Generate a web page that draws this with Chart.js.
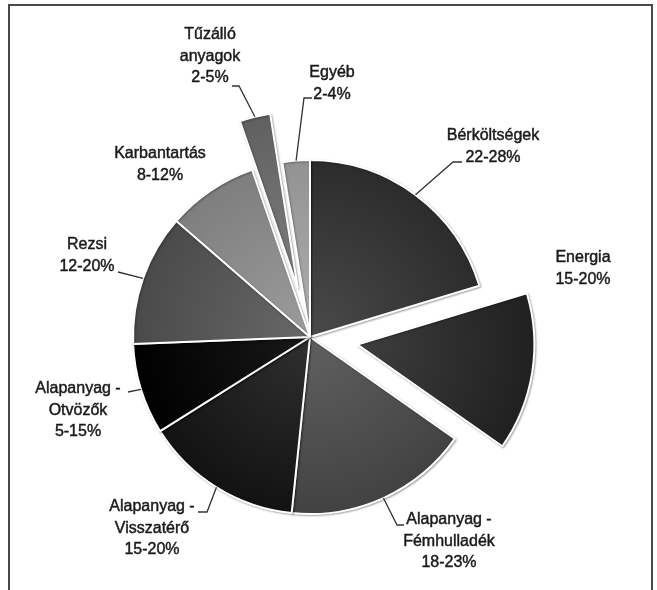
<!DOCTYPE html>
<html>
<head>
<meta charset="utf-8">
<script src="https://cdn.jsdelivr.net/npm/chart.js@4/dist/chart.umd.min.js"></script>
<style>
  html, body { margin: 0; padding: 0; background: #fff; }
</style>
</head>
<body>
<canvas id="pieChart" width="657" height="590"></canvas>
<script>
// data
const categories = [
    ['Bérköltségek'], ['Energia'], ['Alapanyag -', 'Fémhulladék'], ['Alapanyag -', 'Visszatérő'],
    ['Alapanyag -', 'Otvözők'], ['Rezsi'], ['Karbantartás'], ['Tűzálló', 'anyagok'], ['Egyéb']
];
const ranges = ['22-28%', '15-20%', '18-23%', '15-20%', '5-15%', '12-20%', '8-12%', '2-5%', '2-4%'];
const shares = [20.3, 14.4, 16.9, 14.4, 8.3, 12.0, 8.3, 2.8, 2.5];

// styles / layout
const greys = ['#383838', '#2c2c2c', '#4e4e4e', '#1e1e1e', '#070707', '#565656', '#8a8a8a', '#6c6c6c', '#9e9e9e'];
const explode = [0, 48, 0, 0, 0, 0, 0, 50, 0];
const RADIUS = 177;
const labelAt = [[493, 136], [583, 258], [449, 520], [152, 507], [78, 389], [87, 245], [160, 154], [210, 35], [332, 73]];
const leaders = [
    [[453, 162], [462, 162]], null, [[397, 525], [404, 525]], [[207, 512], [198, 512]],
    [[128, 392]], [[118, 272]], null, [[239, 86], [232, 86]], [[304, 98], [312, 98]]
];

function shade(hex, amt) {
    let v = parseInt(hex.slice(1, 3), 16) + amt;
    v = Math.max(0, Math.min(255, v));
    return 'rgb(' + v + ',' + v + ',' + v + ')';
}

const explodePlugin = {
    id: 'explode',
    beforeDraw(chart) {
        const ctx = chart.ctx;
        ctx.save();
        ctx.strokeStyle = '#4a4a4a';
        ctx.lineWidth = 2;
        ctx.beginPath();
        ctx.moveTo(9, 590); ctx.lineTo(9, 5); ctx.lineTo(652, 5); ctx.lineTo(652, 590);
        ctx.stroke();
        ctx.restore();
    },
    beforeDatasetDraw(chart, args) {
        const ctx = chart.ctx;
        args.meta.data.forEach((arc, i) => {
            const mid = (arc.startAngle + arc.endAngle) / 2;
            ctx.save();
            ctx.translate(Math.cos(mid) * explode[i], Math.sin(mid) * explode[i]);
            ctx.shadowColor = 'rgba(0,0,0,0.3)';
            ctx.shadowBlur = 2;
            ctx.shadowOffsetX = 1;
            ctx.shadowOffsetY = 1;
            arc.draw(ctx, chart.chartArea);
            ctx.restore();
        });
        return false;
    },
    afterDraw(chart) {
        const ctx = chart.ctx;
        const arcs = chart.getDatasetMeta(0).data;
        ctx.save();
        ctx.strokeStyle = '#333';
        ctx.lineWidth = 1.3;
        arcs.forEach((arc, i) => {
            if (!leaders[i]) return;
            const mid = (arc.startAngle + arc.endAngle) / 2;
            const r = arc.outerRadius + explode[i];
            ctx.beginPath();
            ctx.moveTo(arc.x + Math.cos(mid) * r, arc.y + Math.sin(mid) * r);
            leaders[i].forEach(p => ctx.lineTo(p[0], p[1]));
            ctx.stroke();
        });
        ctx.fillStyle = '#1a1a1a';
        ctx.strokeStyle = '#1a1a1a';
        ctx.lineWidth = 0.45;
        ctx.font = '16px "Liberation Sans", Arial, sans-serif';
        ctx.textAlign = 'center';
        ctx.textBaseline = 'middle';
        categories.forEach((lines, i) => {
            const all = lines.concat([ranges[i]]);
            all.forEach((t, k) => {
                ctx.fillText(t, labelAt[i][0], labelAt[i][1] + k * 21.5);
                ctx.strokeText(t, labelAt[i][0], labelAt[i][1] + k * 21.5);
            });
        });
        ctx.restore();
    }
};

const ctx = document.getElementById('pieChart');
const pieChart = new Chart(ctx, {
    type: 'pie',
    data: {
        labels: categories.map(l => l.join(' ')),
        datasets: [{
            data: shares,
            radius: RADIUS,
            backgroundColor: c => {
                const a = c.chart.chartArea;
                const base = greys[c.dataIndex];
                if (!a) return base;
                const cx = (a.left + a.right) / 2, cy = (a.top + a.bottom) / 2;
                const g = c.chart.ctx.createRadialGradient(cx, cy, 0, cx, cy, RADIUS);
                g.addColorStop(0, shade(base, 18));
                g.addColorStop(1, shade(base, -12));
                return g;
            },
            borderColor: '#ffffff',
            borderWidth: 2
        }]
    },
    options: {
        responsive: false,
        animation: false,
        layout: { padding: { left: 0, right: 37, top: 84, bottom: 0 } },
        plugins: { legend: { display: false }, tooltip: { enabled: false } }
    },
    plugins: [explodePlugin]
});
</script>
</body>
</html>
